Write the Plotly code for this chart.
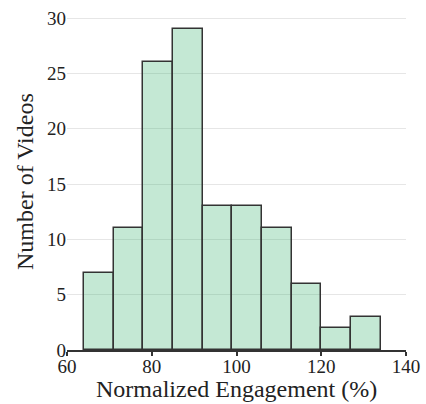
import plotly.graph_objects as go

bin_start = 64.0
bin_size = 7.0
counts = [7, 11, 26, 29, 13, 13, 11, 6, 2, 3]
bin_centers = [bin_start + bin_size * (i + 0.5) for i in range(len(counts))]

x_ticks = [60, 80, 100, 120, 140]
y_ticks = [0, 5, 10, 15, 20, 25, 30]

serif = "Liberation Serif"

fig = go.Figure(go.Bar(
    x=bin_centers, y=counts, width=bin_size,
    marker=dict(color="rgba(60,179,113,0.3)", line=dict(color="#333333", width=1.5)),
))

fig.update_layout(
    width=426, height=404,
    margin=dict(l=67, r=20, t=12, b=54),
    paper_bgcolor="white", plot_bgcolor="white",
    font=dict(family=serif, size=19, color="#222222"),
    showlegend=False, bargap=0,
    annotations=[
        dict(text="Normalized Engagement (%)", xref="paper", yref="paper",
             x=0.5, y=-0.1598, xanchor="center", yanchor="bottom", showarrow=False,
             font=dict(family=serif, size=24, color="#222222")),
        dict(text="Number of Videos", xref="paper", yref="paper", textangle=-90,
             x=-0.1239, y=0.5, xanchor="center", yanchor="middle", showarrow=False,
             font=dict(family=serif, size=24, color="#222222")),
    ],
)
fig.update_xaxes(
    range=[60, 140], tickvals=x_ticks, showgrid=False, zeroline=False,
    showline=True, linecolor="#333333", linewidth=1.5,
    ticks="outside", ticklen=4, tickcolor="#333333", tickwidth=1.5,
    tickfont=dict(family=serif, size=19, color="#222222"),
    ticklabelstandoff=-6,
    automargin=False,
)
fig.update_yaxes(
    range=[0, 30.56], tickvals=y_ticks, showgrid=True, gridcolor="#e6e6e6", gridwidth=1,
    zeroline=False, showline=False, ticks="",
    tickfont=dict(family=serif, size=19, color="#222222"),
    automargin=False,
)

fig.write_html("out.html")
